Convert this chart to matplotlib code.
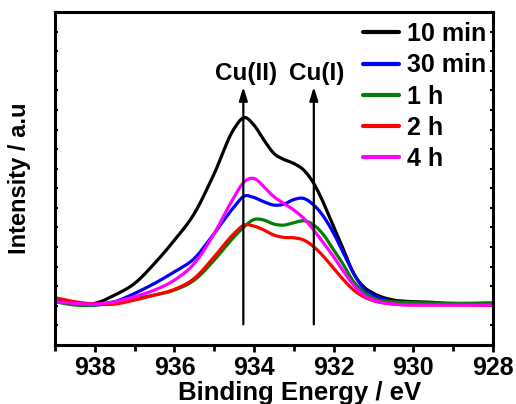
import numpy as np
import matplotlib
matplotlib.use("Agg")
import matplotlib.pyplot as plt
from matplotlib.ticker import MultipleLocator, FixedLocator

plt.rcParams['font.family'] = ['Liberation Sans', 'DejaVu Sans']
plt.rcParams['font.weight'] = 'bold'

energy = [939.0, 938.5, 938.0, 937.5, 937.0, 936.5, 936.0, 935.5, 935.0, 934.5,
          934.25, 934.0, 933.75, 933.5, 933.25, 933.0, 932.75, 932.5, 932.25,
          932.0, 931.75, 931.5, 931.25, 931.0, 930.5, 930.0, 929.5, 929.0, 928.0]

i_10min = [135, 125, 125, 150, 185, 245, 315, 395, 515, 650, 683, 660, 615, 575,
           557, 545, 525, 485, 425, 355, 285, 215, 175, 155, 135, 130, 128, 123, 120]
i_30min = [135, 125, 120, 130, 155, 185, 220, 260, 335, 415, 447, 443, 430, 420,
           423, 437, 440, 420, 385, 335, 275, 215, 170, 150, 130, 125, 125, 125, 120]
i_1h = [130, 120, 120, 130, 140, 150, 165, 195, 255, 325, 355, 377, 375, 363,
        360, 367, 373, 360, 330, 285, 240, 190, 160, 140, 130, 127, 126, 125, 127]
i_2h = [142, 130, 123, 123, 135, 150, 167, 200, 265, 335, 360, 357, 345, 330,
        323, 322, 315, 295, 265, 230, 195, 165, 145, 133, 123, 120, 120, 120, 120]
i_4h = [130, 125, 123, 130, 145, 165, 195, 245, 335, 445, 490, 500, 475, 445,
        425, 405, 380, 345, 305, 265, 220, 180, 150, 135, 123, 120, 120, 120, 120]

series = [("10 min", i_10min, "black"),
          ("30 min", i_30min, "blue"),
          ("1 h", i_1h, "green"),
          ("2 h", i_2h, "red"),
          ("4 h", i_4h, "magenta")]

peaks = [("Cu(II)", 934.27), ("Cu(I)", 932.5)]
xticks = [938, 936, 934, 932, 930, 928]


def smooth(x, y, n=400):
    x = np.asarray(x, float)[::-1]
    y = np.asarray(y, float)[::-1]
    xs = np.linspace(x.min(), x.max(), n)
    # cubic hermite interpolation for a smooth display
    m = np.gradient(y, x)
    idx = np.clip(np.searchsorted(x, xs) - 1, 0, len(x) - 2)
    h = x[idx + 1] - x[idx]
    t = (xs - x[idx]) / h
    h00 = 2 * t**3 - 3 * t**2 + 1
    h10 = t**3 - 2 * t**2 + t
    h01 = -2 * t**3 + 3 * t**2
    h11 = t**3 - t**2
    ys = h00 * y[idx] + h10 * h * m[idx] + h01 * y[idx + 1] + h11 * h * m[idx + 1]
    return xs, ys


fig = plt.figure(figsize=(5.16, 4.04), dpi=100)
ax = fig.add_axes([55 / 516, 1 - 345 / 404, 438 / 516, 333 / 404])

for label, vals, color in series:
    xs, ys = smooth(energy, vals)
    ax.plot(xs, ys, color=color, lw=2.3, label=label, solid_capstyle='round')

for text, xp in peaks:
    ax.annotate("", xy=(xp, 775), xytext=(xp, 62),
                arrowprops=dict(arrowstyle="-|>,head_length=0.8,head_width=0.25",
                                color="black", lw=1.6, shrinkA=0, shrinkB=0))
    ax.text(xp - 0.08, 782, text, ha="center", va="bottom", fontsize=17.5,
            fontweight="bold")

ax.set_xlim(939, 928)
ax.set_ylim(0, 1000)
ax.xaxis.set_major_locator(FixedLocator(xticks))
ax.xaxis.set_minor_locator(MultipleLocator(1))
ax.yaxis.set_major_locator(FixedLocator(np.linspace(0, 1000, 18)))
ax.set_yticklabels([])
ax.tick_params(axis='x', which='major', direction='out', length=5, width=2,
               labelsize=18, pad=3)
ax.tick_params(axis='x', which='minor', direction='out', length=4, width=2)
ax.tick_params(axis='y', which='major', direction='in', length=2.5, width=1.5,
               left=True, right=True)
for lab in ax.get_xticklabels():
    lab.set_fontweight('bold')
for sp in ax.spines.values():
    sp.set_linewidth(2.2)

ax.set_xlabel("Binding Energy / eV", fontsize=18.5, fontweight='bold')
ax.xaxis.set_label_coords(0.558, -0.108)
ax.set_ylabel("Intensity / a.u", fontsize=17, fontweight='bold')
ax.yaxis.set_label_coords(-0.055, 0.5)

leg = ax.legend(loc='upper left', bbox_to_anchor=(363 / 516, 1 - 22 / 404),
                bbox_transform=fig.transFigure, frameon=False, fontsize=18,
                handlelength=1.45, handletextpad=0.3, labelspacing=0.29,
                borderpad=0, borderaxespad=0)
for t in leg.get_texts():
    t.set_fontweight('bold')
for l in leg.get_lines():
    l.set_linewidth(3)

fig.savefig("out.png", dpi=100)
